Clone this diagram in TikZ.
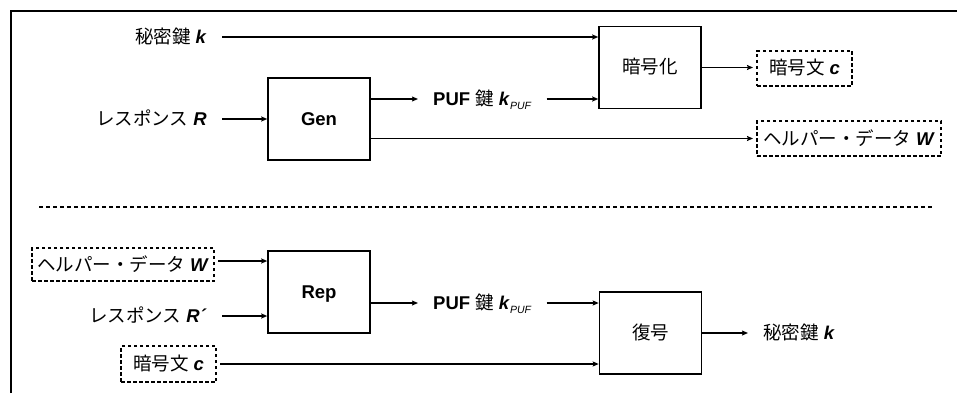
\documentclass[tikz,border=0pt]{standalone}
\usepackage{fontspec}
\setmainfont{Liberation Sans}
\newfontfamily\jp{Noto Sans CJK JP}
\usetikzlibrary{arrows.meta}
\newcommand\vv[1]{\textbf{\textit{#1}}}
\newcommand\kpuf{\textbf{PUF} {\jp 鍵} \vv{k}\raisebox{-4pt}{\fontsize{10.5}{10.5}\selectfont\textit{PUF}}}
\begin{document}
\begin{tikzpicture}[x=1pt,y=-1pt,
  every node/.style={font=\fontsize{18.5}{22}\selectfont, text height=13pt, text depth=0pt},
  blk/.style={draw, line width=1.6pt, minimum width=102pt, minimum height=82pt, inner sep=0pt},
  lbl/.style={inner xsep=15pt, inner ysep=0pt},
  dbox/.style={draw, line width=1.3pt, dash pattern=on 3.5pt off 2.5pt, minimum height=35pt, inner sep=0pt, outer xsep=4pt},
  arr/.style={line width=1.2pt, -{Stealth[length=6pt,width=5pt,inset=1pt]}},
  ln/.style={line width=1.2pt}]
\useasboundingbox (0,0) rectangle (957,393);
% frame
\draw[line width=1.2pt] (11,393) -- (11,11) -- (957,11);
% upper section
\node[lbl, anchor=east] (k1) at (222,37) {{\jp 秘密鍵} \vv{k}};
\node[lbl, anchor=east] (r1) at (222,119) {{\jp レスポンス} \vv{R}};
\node[blk] (gen) at (319,119) {\textbf{Gen}};
\node[blk] (enc) at (650,67.5) {\jp 暗号化};
\node[lbl, anchor=west] (puf1) at (418,99) {\kpuf};
\node[dbox, minimum width=95pt] (cU) at (804.5,68.5) {{\jp 暗号文} \vv{c}};
\node[dbox, minimum width=184pt] (hU) at (849,138.5) {{\jp ヘルパー・データ} \vv{W}};
\draw[arr] (k1.east) -- (k1.east -| enc.west);
\draw[arr] (r1.east) -- (gen.west);
\draw[arr] (gen.east |- puf1.west) -- (puf1.west);
\draw[arr] (puf1.east) -- (puf1.east -| enc.west);
\draw[arr] (enc.east) -- (enc.east -| cU.west);
\draw[arr] (gen.east |- hU.west) -- (hU.west);
% separator
\draw[line width=1.2pt, dash pattern=on 4pt off 3pt] (39,207) -- (932,207);
% lower section
\node[dbox, minimum width=182pt, minimum height=33pt] (hL) at (123,264.5) {{\jp ヘルパー・データ} \vv{W}};
\node[lbl, anchor=east] (r2) at (222,316) {{\jp レスポンス} \vv{R´}};
\node[dbox, minimum width=95pt, minimum height=36pt] (cL) at (168.5,364) {{\jp 暗号文} \vv{c}};
\node[blk] (rep) at (319,292) {\textbf{Rep}};
\node[lbl, anchor=west] (puf2) at (418,303) {\kpuf};
\node[blk] (dec) at (650.5,333) {\jp 復号};
\node[lbl, anchor=west] (k2) at (748,333) {{\jp 秘密鍵} \vv{k}};
\draw[arr] ([yshift=3.5pt]hL.east) -- ([yshift=3.5pt]hL.east -| rep.west);
\draw[arr] (r2.east) -- (r2.east -| rep.west);
\draw[arr] (rep.east |- puf2.west) -- (puf2.west);
\draw[arr] (puf2.east) -- (puf2.east -| dec.west);
\draw[arr] (cL.east) -- (cL.east -| dec.west);
\draw[arr] (dec.east) -- (k2.west);
\end{tikzpicture}
\end{document}
